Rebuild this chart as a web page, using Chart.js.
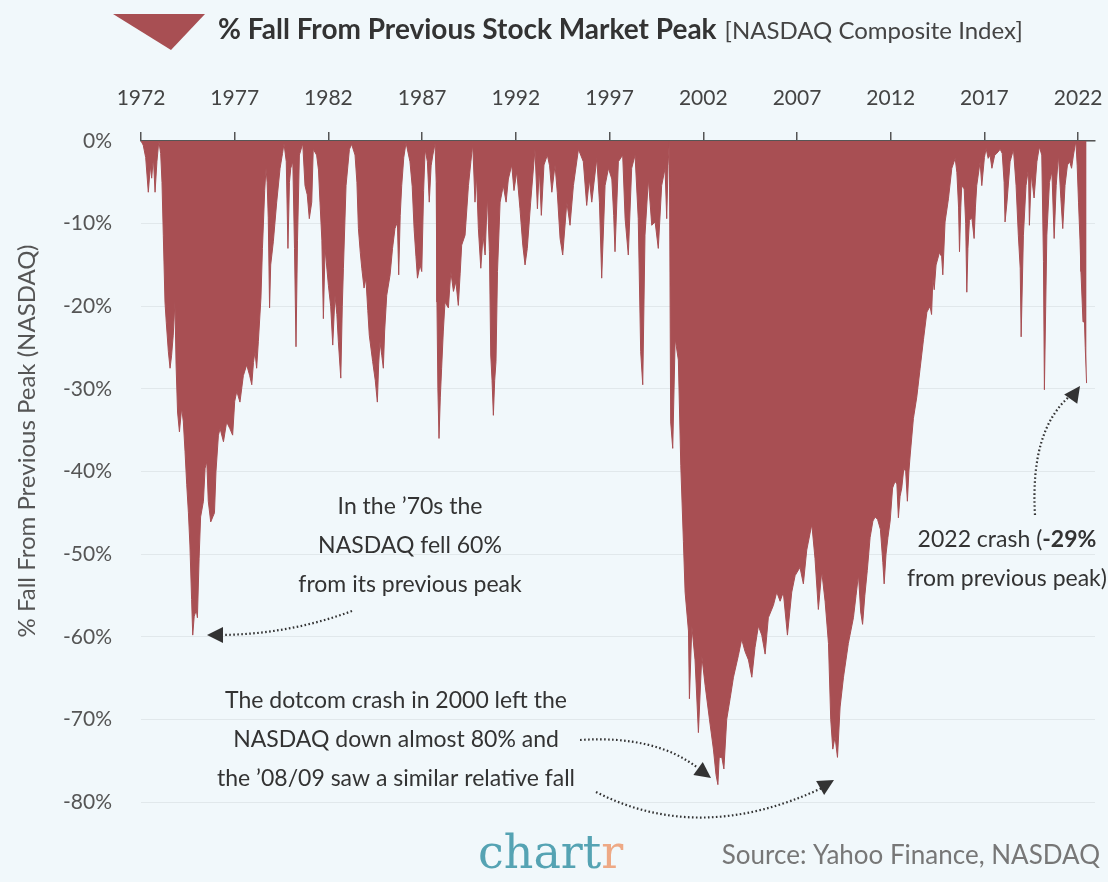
<!DOCTYPE html>
<html lang="en">
<head>
<meta charset="UTF-8">
<title>% Fall From Previous Stock Market Peak</title>
<script src="https://cdn.jsdelivr.net/npm/chart.js@4"></script>
<style>
  body { margin: 0; background: #f1f8fb; }
  #wrap { width: 1108px; height: 882px; }
</style>
</head>
<body>
<div id="wrap"><canvas id="nasdaqChart" width="1108" height="882"></canvas></div>
<script>
// x axis labels
const tickYears = [1972, 1977, 1982, 1987, 1992, 1997, 2002, 2007, 2012, 2017, 2022];
const yTicks = [0, -10, -20, -30, -40, -50, -60, -70, -80];

// dates (decimal years)
const years = [
  1972.00,1972.12,1972.25,1972.39,1972.50,1972.57,1972.66,1972.75,1972.85,1972.95,
  1973.05,1973.12,1973.19,1973.28,1973.35,1973.46,1973.55,1973.63,1973.72,1973.81,1973.87,1973.95,
  1974.05,1974.17,1974.26,1974.35,1974.44,1974.53,1974.61,1974.70,1974.76,1974.84,1974.95,
  1975.01,1975.10,1975.18,1975.33,1975.42,1975.51,1975.59,1975.72,1975.83,1975.92,
  1976.00,1976.13,1976.22,1976.40,1976.57,1976.74,1976.89,
  1977.00,1977.11,1977.28,1977.46,1977.64,1977.80,1977.91,
  1978.00,1978.08,1978.17,1978.26,1978.40,1978.48,1978.60,1978.67,1978.73,1978.79,1978.86,1978.92,
  1979.06,1979.24,1979.42,1979.55,1979.63,1979.75,1979.84,1979.92,1979.99,
  1980.10,1980.19,1980.27,1980.35,1980.45,1980.63,1980.75,1980.87,1980.98,
  1981.11,1981.19,1981.37,1981.47,1981.55,1981.65,1981.73,1981.82,1981.92,
  1982.00,1982.12,1982.23,1982.35,1982.45,1982.53,1982.66,1982.74,1982.80,1982.94,
  1983.12,1983.24,1983.42,1983.52,1983.60,1983.70,1983.78,1983.90,
  1984.00,1984.10,1984.18,1984.36,1984.50,1984.61,1984.68,1984.75,1984.85,1984.93,
  1985.00,1985.11,1985.29,1985.42,1985.55,1985.68,1985.75,1985.83,1985.91,
  1986.02,1986.14,1986.35,1986.47,1986.57,1986.67,1986.75,1986.89,1986.98,
  1987.08,1987.16,1987.28,1987.38,1987.48,1987.57,1987.69,1987.75,1987.79,1987.84,1987.90,1987.97,
  1988.04,1988.13,1988.22,1988.40,1988.53,1988.67,1988.80,1988.93,
  1989.03,1989.11,1989.29,1989.47,1989.60,1989.70,1989.82,1989.90,
  1990.00,1990.13,1990.25,1990.36,1990.48,1990.59,1990.66,1990.73,1990.80,1990.87,1990.94,
  1991.02,1991.16,1991.33,1991.48,1991.60,1991.78,1991.90,
  1992.05,1992.22,1992.37,1992.49,1992.61,1992.79,
  1993.02,1993.15,1993.25,1993.36,1993.50,1993.68,1993.80,1993.92,
  1994.09,1994.21,1994.36,1994.50,1994.72,1994.89,
  1995.07,1995.34,1995.60,1995.78,1995.92,
  1996.05,1996.32,1996.46,1996.58,1996.76,1996.94,
  1997.12,1997.22,1997.29,1997.47,1997.70,1997.83,
  1998.00,1998.18,1998.36,1998.53,1998.66,1998.77,1998.89,
  1999.07,1999.25,1999.43,1999.60,1999.78,1999.96,
  2000.05,2000.12,2000.19,2000.26,2000.37,2000.50,2000.67,2000.80,2000.94,
  2001.03,2001.21,2001.26,2001.39,2001.56,2001.74,2001.92,
  2002.10,2002.33,2002.54,2002.68,2002.78,2002.85,2002.99,
  2003.10,2003.25,2003.43,2003.61,2003.87,
  2004.05,2004.23,2004.41,2004.59,2004.76,2004.94,
  2005.12,2005.30,2005.47,2005.74,2005.92,
  2006.10,2006.27,2006.49,2006.72,2006.90,
  2007.16,2007.34,2007.52,2007.79,2007.96,
  2008.14,2008.32,2008.50,2008.68,2008.80,2008.91,
  2009.03,2009.16,2009.30,2009.48,2009.74,
  2010.01,2010.15,2010.28,2010.40,2010.50,2010.62,2010.75,2010.90,
  2011.05,2011.17,2011.30,2011.45,2011.58,2011.65,2011.75,2011.85,2011.97,
  2012.10,2012.23,2012.33,2012.41,2012.50,2012.59,2012.70,2012.80,2012.89,2012.97,
  2013.04,2013.21,2013.39,2013.57,2013.75,2013.93,
  2014.10,2014.18,2014.25,2014.32,2014.42,2014.60,2014.72,2014.78,2014.90,
  2015.08,2015.26,2015.44,2015.53,2015.62,2015.67,2015.74,2015.79,2015.92,
  2016.00,2016.06,2016.12,2016.20,2016.33,2016.45,2016.52,2016.59,2016.77,2016.86,
  2017.00,2017.09,2017.20,2017.30,2017.40,2017.55,2017.66,2017.84,2017.95,
  2018.05,2018.10,2018.20,2018.37,2018.55,2018.69,2018.81,2018.91,2018.96,
  2019.08,2019.22,2019.35,2019.40,2019.50,2019.65,2019.80,2019.93,
  2020.06,2020.15,2020.20,2020.27,2020.33,2020.47,2020.60,2020.72,2020.83,2020.95,
  2021.08,2021.18,2021.30,2021.43,2021.55,2021.65,2021.75,2021.88,2021.95,
  2022.02,2022.10,2022.15,2022.26,2022.30,2022.38,2022.45
];

// % fall from previous peak at each date above
const falls = [
  0,-0.5,-2,-6.2,-3,-4.5,-2,-6.2,-2.5,0,
  -1.5,-5,-11.4,-19.5,-22,-25.5,-27.5,-26,-23.5,-19.5,-27,-32.8,
  -35.2,-32.3,-34,-37.6,-41.6,-45,-48.9,-55.5,-59.8,-57.5,-56.8,
  -57.7,-50.5,-45.5,-43.6,-39.6,-38.8,-43.6,-46.1,-45.5,-45,
  -40,-35.6,-34.8,-36.4,-34,-34.8,-35.6,
  -31.5,-30.3,-31.6,-28.4,-27.1,-28.4,-29.5,
  -26.8,-25.5,-27.5,-24.3,-19,-13,-6,-3.3,-5,-9.3,-20.2,-15,
  -12.2,-7.4,-3.3,-1.5,-0.3,-2.5,-13,-5,-3.3,
  -2.5,-13,-24.9,-12,-1.7,-0.3,-5.4,-6.5,-9.4,
  -7.4,-1,-1.7,-3.5,-7.4,-12,-21.5,-13,-15.5,
  -17.5,-20,-24.7,-18.7,-21,-24.3,-28.7,-20,-15.4,-5.4,
  -1,-0.4,-1.7,-5,-10.6,-13.5,-15.4,-17.8,
  -16.6,-20.5,-23.5,-26.7,-29,-31.6,-27,-24.3,-26,-27.5,
  -23,-18.7,-16.2,-13,-10.6,-9.8,-16.2,-9,-5.4,
  -2,-0.2,-2.5,-5.5,-10.6,-14,-16.6,-15,-15.8,
  -6,-1,-2.5,-7.4,-3,-1.7,-0.3,-5,-19.5,-30,-36,-31,
  -27.5,-23,-19.5,-20.2,-15.8,-18.2,-17,-19.9,
  -16,-12.6,-11.4,-5.4,-2.5,-0.4,-7.4,-4.1,
  -10.6,-15.4,-11.4,-13.8,-6.6,-13.4,-25.9,-29,-33.2,-29,-26.7,
  -15.8,-7.4,-5.4,-7.4,-4.6,-2.9,-6,
  -3.7,-8.2,-12.6,-15,-13,-7.4,
  -1,-8.2,-3.3,-9,-2.9,-1.7,-3,-6.2,
  -2.9,-6.2,-11.8,-13.8,-7.4,-10.2,
  -5.4,-1,-2.5,-7.8,-4.6,
  -7.4,-2.1,-7.4,-16.6,-5.4,-3.3,
  -4.6,-9,-13.4,-2.5,-1.7,-9.4,
  -13.8,-3.3,-1.7,-9.4,-25.5,-29.5,-11.4,
  -4.6,-10.2,-9.8,-13,-5.4,-3.3,
  -9.4,-3,0,-34,-37.2,-23.9,-26.5,-39.3,-48.5,
  -54.6,-59.3,-67.5,-58.7,-62.8,-71.6,-62.3,
  -65.9,-70,-73.6,-76.7,-77.9,-74.6,-74.6,
  -76,-70,-67.5,-64.9,-62.3,
  -60.3,-61.8,-62.8,-64.9,-61.3,-58.7,
  -59.8,-62.1,-57.7,-56.2,-54.6,
  -55.7,-54.6,-59.8,-54.6,-52.6,
  -51.6,-53.6,-49.5,-46.4,-50.5,
  -56.7,-52.1,-55.7,-60.8,-70,-73.6,
  -72.1,-74.6,-68.5,-64.9,-60.8,
  -57.7,-55,-52.5,-57,-58.5,-55,-52,-48,
  -46,-45.5,-45.8,-47,-51,-53.6,-50,-48,-46,
  -42,-41.2,-41.5,-45.6,-43,-42,-39.6,-40,-43.6,-40,
  -38,-33.6,-31,-27.5,-24,-20.7,
  -20,-21,-16.6,-18,-15,-13.5,-14,-16.2,-9.8,
  -7,-3.3,-2.1,-3.8,-8,-13.4,-8,-5.4,-5.8,
  -10,-18.3,-13,-9.6,-9.3,-11.8,-8,-5.4,-2.5,-5.4,
  -2,-0.9,-2.1,-1.7,-3.3,-1.7,-1.5,-1,-1.5,
  -5,-9.8,-7.5,-2.5,-1,-5.4,-11.4,-15.4,-23.7,
  -11.4,-5.4,-3.3,-10.2,-4,-6.9,-2.5,-0.7,
  -1.7,-14.6,-30.1,-20,-11.4,-5,-3.7,-11.8,-5.4,-1.7,
  -7,-10.6,-5.4,-2.9,-2.5,-3.3,-1.7,0,-3,
  -7.4,-12,-15.8,-21.9,-19,-25,-29.3
];

const RED = '#a84f53';
const INK = '#333333';

Chart.defaults.font.family = 'Lato';

function dottedCurve(ctx, p0, c, p1) {
  ctx.save();
  ctx.strokeStyle = INK;
  ctx.lineWidth = 2.2;
  ctx.setLineDash([1.6, 2.4]);
  ctx.beginPath();
  ctx.moveTo(p0[0], p0[1]);
  ctx.quadraticCurveTo(c[0], c[1], p1[0], p1[1]);
  ctx.stroke();
  ctx.restore();
}

function arrowHead(ctx, tip, angle) {
  const len = 16, half = 8;
  ctx.save();
  ctx.translate(tip[0], tip[1]);
  ctx.rotate(angle);
  ctx.fillStyle = INK;
  ctx.beginPath();
  ctx.moveTo(0, 0);
  ctx.lineTo(-len, -half);
  ctx.lineTo(-len, half);
  ctx.closePath();
  ctx.fill();
  ctx.restore();
}

const decor = {
  id: 'decor',
  beforeDraw(chart) {
    const ctx = chart.ctx;
    ctx.save();
    ctx.fillStyle = '#f1f8fb';
    ctx.fillRect(0, 0, chart.width, chart.height);
    ctx.restore();
  },
  afterDraw(chart) {
    const ctx = chart.ctx;
    ctx.save();

    // title with triangle marker
    ctx.fillStyle = RED;
    ctx.beginPath();
    ctx.moveTo(113, 14);
    ctx.lineTo(205, 14);
    ctx.lineTo(171, 50);
    ctx.closePath();
    ctx.fill();

    ctx.fillStyle = INK;
    ctx.textBaseline = 'alphabetic';
    ctx.textAlign = 'left';
    ctx.font = 'bold 28px Lato';
    const title = '% Fall From Previous Stock Market Peak';
    ctx.fillText(title, 218, 39);
    const tw = ctx.measureText(title).width;
    ctx.font = '24px Lato';
    ctx.fillStyle = '#444';
    ctx.fillText('[NASDAQ Composite Index]', 218 + tw + 8, 39);

    // y axis title
    ctx.save();
    ctx.translate(27, 441);
    ctx.rotate(-Math.PI / 2);
    ctx.textAlign = 'center';
    ctx.textBaseline = 'middle';
    ctx.font = '24px Lato';
    ctx.fillStyle = '#555';
    ctx.fillText('% Fall From Previous Peak (NASDAQ)', 0, 0);
    ctx.restore();

    // notes
    ctx.textAlign = 'center';
    ctx.textBaseline = 'middle';
    ctx.font = '23px Lato';
    ctx.fillStyle = INK;
    ['In the ’70s the', 'NASDAQ fell 60%', 'from its previous peak']
      .forEach((t, i) => ctx.fillText(t, 410, 507 + i * 39));
    ['The dotcom crash in 2000 left the', 'NASDAQ down almost 80% and', 'the ’08/09 saw a similar relative fall']
      .forEach((t, i) => ctx.fillText(t, 396, 701 + i * 39));

    // 2022 note, with bold figure
    ctx.textAlign = 'left';
    const a = '2022 crash (', b = '-29%';
    ctx.font = '23px Lato';
    const wa = ctx.measureText(a).width;
    ctx.font = 'bold 23px Lato';
    const wb = ctx.measureText(b).width;
    const sx = 1007 - (wa + wb) / 2;
    ctx.font = '23px Lato';
    ctx.fillText(a, sx, 540);
    ctx.font = 'bold 23px Lato';
    ctx.fillText(b, sx + wa, 540);
    ctx.textAlign = 'center';
    ctx.font = '23px Lato';
    ctx.fillText('from previous peak)', 1007, 579);

    // arrows
    dottedCurve(ctx, [352, 611], [290, 634], [222, 635]);
    arrowHead(ctx, [207, 635], Math.PI);
    dottedCurve(ctx, [1035, 515], [1030, 430], [1070, 396]);
    arrowHead(ctx, [1080, 386], -Math.PI / 3.3);
    dottedCurve(ctx, [580, 740], [655, 735], [698, 768]);
    arrowHead(ctx, [711, 778], Math.PI / 5);
    dottedCurve(ctx, [596, 792], [700, 845], [822, 788]);
    arrowHead(ctx, [834, 780], -Math.PI / 6);

    // logo and source
    ctx.textBaseline = 'alphabetic';
    ctx.textAlign = 'left';
    ctx.font = '46px "DejaVu Serif"';
    ctx.fillStyle = '#55a3b3';
    ctx.fillText('chart', 478, 868);
    const lw = ctx.measureText('chart').width;
    ctx.fillStyle = '#eea985';
    ctx.fillText('r', 478 + lw, 868);

    ctx.textAlign = 'right';
    ctx.font = '26px Lato';
    ctx.fillStyle = '#777';
    ctx.fillText('Source: Yahoo Finance, NASDAQ', 1100, 864);

    ctx.restore();
  }
};

new Chart(document.getElementById('nasdaqChart'), {
  type: 'line',
  data: {
    datasets: [{
      data: years.map((x, i) => ({ x: x, y: falls[i] })),
      borderColor: RED,
      borderWidth: 1,
      backgroundColor: RED,
      fill: 'origin',
      pointRadius: 0,
      tension: 0
    }]
  },
  options: {
    responsive: false,
    animation: false,
    layout: { padding: { left: 0, top: 0, right: 13, bottom: 80 } },
    plugins: { legend: { display: false }, tooltip: { enabled: false } },
    scales: {
      x: {
        type: 'linear',
        position: 'top',
        min: 1972,
        max: 2022.9,
        afterBuildTicks: axis => { axis.ticks = tickYears.map(v => ({ value: v })); },
        afterFit: axis => { axis.height = 141; axis.paddingLeft = 0; axis.paddingRight = 0; },
        ticks: {
          autoSkip: false,
          maxRotation: 0,
          padding: 21,
          color: '#444',
          font: { size: 21 },
          callback: v => String(v)
        },
        grid: { drawOnChartArea: false, drawTicks: true, tickLength: 9, color: '#555', lineWidth: 1.5 },
        border: { display: true, color: '#555', width: 1.5 }
      },
      y: {
        min: -80,
        max: 0,
        afterBuildTicks: axis => { axis.ticks = yTicks.map(v => ({ value: v })); },
        afterFit: axis => { axis.width = 141; axis.paddingTop = 0; axis.paddingBottom = 0; },
        ticks: {
          padding: 29,
          color: '#555',
          font: { size: 21 },
          callback: v => v + '%'
        },
        grid: { color: '#e1e8eb', lineWidth: 1, drawTicks: false },
        border: { display: false }
      }
    }
  },
  plugins: [decor]
});
</script>
</body>
</html>
